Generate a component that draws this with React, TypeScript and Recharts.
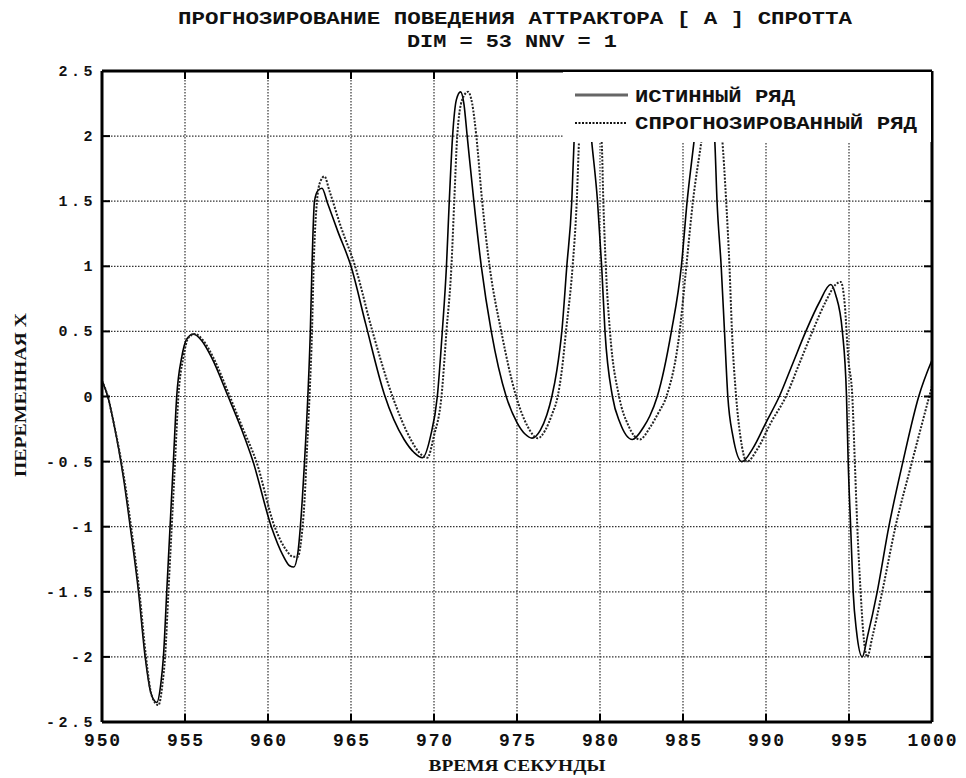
import React from 'react';
import { LineChart, Line, XAxis, YAxis, CartesianGrid, Legend } from 'recharts';

const TITLE_LINE_1 = 'ПРОГНОЗИРОВАНИЕ ПОВЕДЕНИЯ АТТРАКТОРА [ А ] СПРОТТА';
const TITLE_LINE_2 = 'DIM = 53 NNV = 1';
const X_LABEL = 'ВРЕМЯ СЕКУНДЫ';
const Y_LABEL = 'ПЕРЕМЕННАЯ Х';
const SERIES_NAMES = ['ИСТИННЫЙ РЯД', 'СПРОГНОЗИРОВАННЫЙ РЯД'];

const xTicks = [950, 955, 960, 965, 970, 975, 980, 985, 990, 995, 1000];
const yTicks = [-2.5, -2, -1.5, -1, -0.5, 0, 0.5, 1, 1.5, 2, 2.5];

const trueTime = [
  950.0, 950.35, 950.7, 951.0, 951.3, 951.7, 952.2, 952.6, 952.95, 953.3, 953.55, 953.7, 953.9, 954.1,
  954.3, 954.5, 954.8, 955.1, 955.5, 956.0, 956.6, 957.6, 958.4, 959.1, 960.2, 960.9, 961.3, 961.55,
  961.8, 961.95, 962.2, 962.4, 962.55, 962.65, 962.8, 963.0, 963.25, 963.6, 964.2, 965.0, 965.9, 967.0,
  968.2, 968.8, 969.3, 969.8, 970.2, 970.5, 970.75, 970.92, 971.12, 971.35, 971.6, 971.8, 972.0, 972.4,
  972.85, 973.45, 974.35, 975.0, 975.5, 975.9, 976.4, 976.8, 977.1, 977.4, 977.7, 978.0, 978.3, 978.45,
  978.75, 979.0, 979.25, 979.5, 979.85, 980.1, 980.3, 980.75, 981.2, 981.95, 982.6, 983.0, 983.45, 984.3,
  984.9, 985.25, 985.7, 986.0, 986.3, 986.6, 986.9, 987.05, 987.3, 987.5, 987.7, 988.0, 988.55, 989.2,
  990.0, 990.8, 991.6, 992.4, 993.2, 993.9, 994.2, 994.6, 994.85, 994.95, 995.1, 995.25, 995.45, 995.8,
  996.1, 996.7, 997.4, 998.25, 999.2, 1000.0,
];
const trueValue = [
  0.12, 0.0, -0.2, -0.4, -0.63, -1.0, -1.5, -2.0, -2.28, -2.35, -2.2, -2.0, -1.5, -1.0,
  -0.5, 0.0, 0.3, 0.44, 0.48, 0.43, 0.3, 0.0, -0.25, -0.5, -1.0, -1.22, -1.3, -1.31,
  -1.2, -1.0, -0.5, 0.0, 0.5, 1.0, 1.5, 1.58, 1.6, 1.48, 1.27, 1.0, 0.55, 0.02,
  -0.33, -0.43, -0.47, -0.3, 0.0, 0.5, 1.0, 1.5, 2.0, 2.28, 2.34, 2.25, 2.0, 1.5,
  1.0, 0.5, 0.0, -0.2, -0.29, -0.32, -0.26, -0.14, 0.0, 0.2, 0.5, 1.0, 1.5, 2.0,
  2.38, 2.45, 2.3, 1.96, 1.5, 1.0, 0.5, 0.0, -0.2, -0.33, -0.24, -0.15, 0.0, 0.5,
  1.0, 1.5, 2.0, 2.35, 2.45, 2.3, 2.0, 1.5, 1.0, 0.5, 0.0, -0.3, -0.5, -0.4,
  -0.2, 0.0, 0.25, 0.5, 0.72, 0.86, 0.78, 0.5, 0.0, -0.5, -1.0, -1.5, -1.8, -2.0,
  -1.85, -1.5, -1.0, -0.5, 0.0, 0.28,
];

const predTime = [
  950.0, 950.35, 950.7, 951.05, 951.35, 951.75, 952.25, 952.65, 953.0, 953.4, 953.65, 953.8, 954.0, 954.2,
  954.4, 954.6, 954.9, 955.2, 955.6, 956.1, 956.7, 957.7, 958.5, 959.3, 960.4, 961.1, 961.5, 961.8,
  962.0, 962.2, 962.35, 962.5, 962.65, 962.75, 962.95, 963.15, 963.4, 963.7, 964.4, 965.25, 966.25, 967.5,
  968.6, 969.1, 969.6, 970.0, 970.45, 970.75, 971.05, 971.22, 971.4, 971.7, 972.05, 972.3, 972.55, 972.9,
  973.35, 974.05, 974.95, 975.6, 976.25, 976.7, 977.1, 977.45, 977.7, 977.95, 978.35, 978.6, 978.75, 979.1,
  979.4, 979.7, 980.1, 980.2, 980.35, 980.6, 981.15, 981.7, 982.4, 983.0, 983.5, 984.0, 984.8, 985.2,
  985.6, 986.15, 986.5, 986.8, 987.1, 987.35, 987.6, 987.8, 987.95, 988.2, 988.45, 988.85, 989.5, 990.3,
  991.2, 992.0, 992.8, 993.6, 994.2, 994.5, 994.75, 994.95, 995.2, 995.35, 995.5, 995.7, 995.85, 996.1,
  996.4, 997.0, 997.8, 998.8, 1000.0,
];
const predValue = [
  0.12, 0.0, -0.2, -0.42, -0.64, -1.0, -1.5, -2.0, -2.3, -2.37, -2.2, -2.0, -1.5, -1.0,
  -0.5, 0.0, 0.3, 0.45, 0.48, 0.43, 0.3, 0.0, -0.25, -0.5, -1.0, -1.18, -1.23, -1.23,
  -1.1, -0.8, -0.4, 0.0, 0.5, 1.0, 1.5, 1.65, 1.69, 1.58, 1.3, 1.0, 0.52, 0.0,
  -0.33, -0.43, -0.47, -0.3, 0.0, 0.5, 1.0, 1.5, 2.0, 2.28, 2.34, 2.25, 2.0, 1.5,
  1.0, 0.5, 0.0, -0.22, -0.32, -0.26, -0.14, 0.0, 0.2, 0.5, 1.0, 1.5, 2.0, 2.4,
  2.45, 2.3, 1.96, 1.5, 1.0, 0.5, 0.0, -0.22, -0.33, -0.24, -0.13, 0.0, 0.5, 1.0,
  1.5, 2.0, 2.35, 2.45, 2.3, 2.0, 1.5, 1.0, 0.5, 0.0, -0.3, -0.5, -0.4, -0.2,
  0.0, 0.25, 0.5, 0.73, 0.86, 0.88, 0.7, 0.3, 0.0, -0.5, -1.0, -1.5, -1.8, -2.0,
  -1.85, -1.5, -1.0, -0.5, 0.08,
];

const trueData = trueTime.map((t, i) => ({ t, v: trueValue[i] }));
const predData = predTime.map((t, i) => ({ t, v: predValue[i] }));

const MONO = '"Liberation Mono", "DejaVu Sans Mono", monospace';
const SERIF = '"Liberation Serif", "DejaVu Serif", serif';

const renderXTick = (props: any) => {
  const { x, y, payload } = props;
  return (
    <text x={x + 1} y={y} textAnchor="middle" fontFamily={MONO} fontWeight={700} fontSize={18}
      letterSpacing={1.9} fill="#111">
      {payload.value}
    </text>
  );
};

const renderYTick = (props: any) => {
  const { x, y, payload } = props;
  return (
    <text x={x} y={y + 5} textAnchor="end" fontFamily={MONO} fontWeight={700} fontSize={15}
      letterSpacing={3.5} fill="#111">
      {payload.value}
    </text>
  );
};

const renderLegend = () => (
  <div style={{ width: '100%', height: '100%', background: '#fff' }}>
    <svg width={368} height={70} style={{ display: 'block' }}>
      <line x1={12} y1={23} x2={65} y2={23} stroke="#666" strokeWidth={3} />
      <text x={72} y={30} fontFamily={MONO} fontWeight={700} fontSize={19} fill="#111"
        textLength={160} lengthAdjust="spacingAndGlyphs">{SERIES_NAMES[0]}</text>
      <line x1={12} y1={51} x2={63} y2={51} stroke="#111" strokeWidth={2} strokeDasharray="2 1.5" />
      <text x={72} y={57} fontFamily={MONO} fontWeight={700} fontSize={19} fill="#111"
        textLength={282} lengthAdjust="spacingAndGlyphs">{SERIES_NAMES[1]}</text>
    </svg>
  </div>
);

const AXIS_LINE = { stroke: '#000', strokeWidth: 3 };
const TICK_LINE = { stroke: '#000', strokeWidth: 2 };

export default function App() {
  return (
    <div style={{ position: 'absolute', left: 0, top: 0, width: 966, height: 778, background: '#fff' }}>
      <LineChart width={966} height={778} margin={{ top: 70, right: 33, bottom: 0, left: 0 }}>
        <CartesianGrid stroke="#333" strokeWidth={1.2} strokeDasharray="1.5 1.5" />
        <XAxis
          dataKey="t"
          type="number"
          domain={[950, 1000]}
          ticks={xTicks}
          height={56}
          tickSize={-8}
          tickMargin={32}
          tick={renderXTick}
          axisLine={AXIS_LINE}
          tickLine={TICK_LINE}
        />
        <XAxis
          xAxisId="top"
          dataKey="t"
          orientation="top"
          type="number"
          domain={[950, 1000]}
          ticks={xTicks}
          height={1}
          tickSize={-8}
          tickFormatter={() => ''}
          axisLine={AXIS_LINE}
          tickLine={TICK_LINE}
        />
        <YAxis
          type="number"
          domain={[-2.5, 2.5]}
          ticks={yTicks}
          width={102}
          tickSize={-8}
          tickMargin={14}
          tick={renderYTick}
          axisLine={AXIS_LINE}
          tickLine={TICK_LINE}
        />
        <YAxis
          yAxisId="right"
          orientation="right"
          type="number"
          domain={[-2.5, 2.5]}
          ticks={yTicks}
          width={1}
          tickSize={-8}
          tickFormatter={() => ''}
          axisLine={AXIS_LINE}
          tickLine={TICK_LINE}
        />
        <Line
          data={trueData}
          dataKey="v"
          name={SERIES_NAMES[0]}
          type="monotone"
          stroke="#000"
          strokeWidth={1.6}
          dot={false}
          isAnimationActive={false}
        />
        <Line
          data={predData}
          dataKey="v"
          xAxisId="top"
          yAxisId="right"
          name={SERIES_NAMES[1]}
          type="monotone"
          stroke="#222"
          strokeWidth={2}
          strokeDasharray="2 1.5"
          dot={false}
          isAnimationActive={false}
        />
        <Legend
          layout="vertical"
          align="center"
          verticalAlign="middle"
          content={renderLegend}
          wrapperStyle={{ position: 'absolute', left: 563, top: 72, width: 368, height: 70, background: '#fff' }}
        />
      </LineChart>
      <svg width={966} height={778} style={{ position: 'absolute', left: 0, top: 0, pointerEvents: 'none' }}>
        <text x={515} y={24} textAnchor="middle" fontFamily={MONO} fontWeight={700} fontSize={19} fill="#111"
          textLength={674} lengthAdjust="spacingAndGlyphs">{TITLE_LINE_1}</text>
        <text x={512} y={47} textAnchor="middle" fontFamily={MONO} fontWeight={700} fontSize={19} fill="#111"
          textLength={210} lengthAdjust="spacingAndGlyphs">{TITLE_LINE_2}</text>
        <text x={517} y={771} textAnchor="middle" fontFamily={SERIF} fontWeight={700} fontSize={17} fill="#111"
          textLength={177} lengthAdjust="spacingAndGlyphs">{X_LABEL}</text>
        <text transform="translate(20,395) rotate(-90)" x={0} y={6} textAnchor="middle" fontFamily={SERIF}
          fontWeight={700} fontSize={17} fill="#111" textLength={164} lengthAdjust="spacingAndGlyphs">{Y_LABEL}</text>
      </svg>
    </div>
  );
}
